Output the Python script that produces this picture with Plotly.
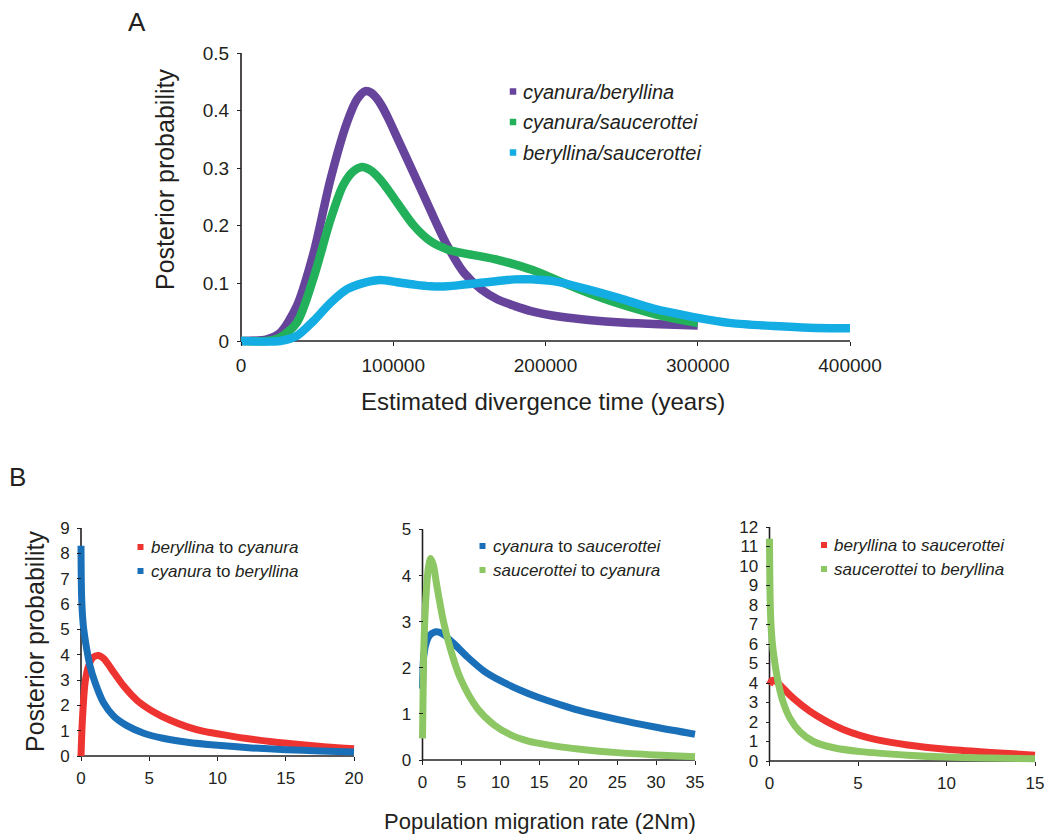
import plotly.graph_objects as go

# ---------------- Panel A data ----------------
div_time_cb = [0, 17000, 25700, 36700, 47700, 58700, 69700, 76300, 81800, 85500, 89000, 92500,
               97000, 102600, 113600, 124600, 135600, 146600, 157600, 168600, 179600, 190500,
               210000, 230000, 250000, 275000, 300000]
prob_cb = [0, 0.003, 0.014, 0.061, 0.153, 0.28, 0.38, 0.42, 0.434, 0.431, 0.422, 0.408,
           0.385, 0.353, 0.29, 0.226, 0.165, 0.118, 0.09, 0.072, 0.061, 0.052,
           0.042, 0.036, 0.032, 0.029, 0.027]

div_time_cs = [0, 17000, 25700, 36700, 47700, 58700, 67000, 74000, 79600, 84000, 88500, 94000,
               102600, 113600, 124600, 135600, 146600, 157600, 168600, 179600, 190500, 201000,
               220000, 239000, 258000, 277000, 300000]
prob_cs = [0, 0.0, 0.006, 0.032, 0.11, 0.21, 0.27, 0.295, 0.302, 0.298, 0.289, 0.272,
           0.24, 0.2, 0.173, 0.159, 0.152, 0.147, 0.141, 0.133, 0.124, 0.113,
           0.092, 0.073, 0.057, 0.043, 0.031]

div_time_bs = [0, 25700, 36700, 47700, 58700, 69700, 80700, 91600, 102600, 113600, 124600,
               135600, 146600, 157600, 168600, 179600, 190500, 207000, 226000, 249000, 271000,
               296500, 322000, 350000, 373000, 400000]
prob_bs = [0, 0.0, 0.009, 0.035, 0.066, 0.09, 0.101, 0.106, 0.102, 0.098, 0.095,
           0.095, 0.098, 0.101, 0.104, 0.107, 0.107, 0.103, 0.091, 0.074, 0.056,
           0.042, 0.031, 0.026, 0.023, 0.022]

names_a = ["<i>cyanura/beryllina</i>", "<i>cyanura/saucerottei</i>", "<i>beryllina/saucerottei</i>"]
ticks_a_x = [0, 100000, 200000, 300000, 400000]
ticklabels_a_x = ["0", "100000", "200000", "300000", "400000"]
ticks_a_y = [0, 0.1, 0.2, 0.3, 0.4, 0.5]
ticklabels_a_y = ["0", "0.1", "0.2", "0.3", "0.4", "0.5"]

# ---------------- Panel B data ----------------
# subplot 1: beryllina <-> cyanura
m_b2c = [0, 0.1, 0.3, 0.55, 0.9, 1.25, 1.65, 2.4, 3.1, 4.1, 5.3, 6.5, 7.8, 9, 10, 12, 14, 16, 18, 20]
p_b2c = [0, 1.4, 2.9, 3.55, 3.9, 3.97, 3.85, 3.3, 2.78, 2.2, 1.75, 1.42, 1.15, 0.97, 0.88, 0.7,
         0.56, 0.45, 0.36, 0.29]
m_c2b = [0, 0.05, 0.17, 0.42, 0.66, 1.03, 1.64, 2.38, 3.36, 4.6, 6, 7.8, 10, 12.5, 15, 17.5, 20]
p_c2b = [8.3, 6.2, 5.15, 4.22, 3.56, 2.9, 2.11, 1.58, 1.2, 0.9, 0.7, 0.54, 0.42, 0.32, 0.25,
         0.2, 0.16]

# subplot 2: cyanura <-> saucerottei
m_c2s = [0, 0.17, 0.52, 0.96, 1.83, 2.7, 4.0, 5.74, 7.9, 10, 12.5, 15, 17.5, 20, 25, 30, 35]
p_c2s = [1.55, 2.27, 2.56, 2.71, 2.78, 2.72, 2.53, 2.24, 1.93, 1.72, 1.52, 1.35, 1.21, 1.08,
         0.88, 0.71, 0.56]
m_s2c = [0, 0.08, 0.17, 0.43, 0.74, 1.04, 1.39, 1.83, 2.7, 3.57, 4.87, 7.04, 9.2, 11.4, 13.6,
         15, 17.5, 20, 25, 30, 35]
p_s2c = [0.47, 1.5, 2.42, 3.5, 4.15, 4.37, 4.23, 3.79, 3.0, 2.42, 1.77, 1.12, 0.76, 0.54, 0.41,
         0.36, 0.29, 0.24, 0.16, 0.11, 0.07]

# subplot 3: beryllina <-> saucerottei
m_b2s = [0, 0.15, 0.38, 0.76, 1.34, 2.29, 3.24, 4.2, 5.15, 6.1, 7.8, 10, 12.5, 15]
p_b2s = [3.9, 4.13, 4.08, 3.74, 3.22, 2.54, 2.02, 1.6, 1.3, 1.08, 0.82, 0.6, 0.44, 0.3]
m_s2b = [0, 0.02, 0.06, 0.15, 0.29, 0.48, 0.76, 1.15, 1.72, 2.48, 3.63, 5.15, 7.8, 10, 12.5, 15]
p_s2b = [11.4, 9.2, 7.5, 6.14, 5.1, 4.08, 3.05, 2.2, 1.5, 1.0, 0.68, 0.48, 0.3, 0.2, 0.15, 0.12]

legend_b1 = ["<i>beryllina</i> to <i>cyanura</i>", "<i>cyanura</i> to <i>beryllina</i>"]
legend_b2 = ["<i>cyanura</i> to <i>saucerottei</i>", "<i>saucerottei</i> to <i>cyanura</i>"]
legend_b3 = ["<i>beryllina</i> to <i>saucerottei</i>", "<i>saucerottei</i> to <i>beryllina</i>"]

ticks_b1_x = [0, 5, 10, 15, 20]
ticks_b1_y = list(range(0, 10))
ticks_b2_x = [0, 5, 10, 15, 20, 25, 30, 35]
ticks_b2_y = list(range(0, 6))
ticks_b3_x = [0, 5, 10, 15]
ticks_b3_y = list(range(0, 13))

# ---------------- styling ----------------
W, H = 1060, 840
FONT = "Liberation Sans, Arial, Helvetica, sans-serif"
INK = "#231f20"
PURPLE = "#66449b"
GREEN = "#23b05a"
CYAN = "#13ade3"
RED = "#ed3431"
BLUE = "#1a70b8"
LGREEN = "#8cc763"


def h_axis(p0, p1, v0, v1, pad_lo=5, pad_hi=5):
    s = (p1 - p0) / (v1 - v0)
    return [v0 - pad_lo / s, v1 + pad_hi / s], [(p0 - pad_lo) / W, (p1 + pad_hi) / W]


def v_axis(p0, p1, v0, v1, pad_lo=5, pad_hi=4):
    # p0: pixel (top-down) of v0, p1: pixel of v1 (p1 < p0)
    s = (p0 - p1) / (v1 - v0)
    return [v0 - pad_lo / s, v1 + pad_hi / s], [(H - (p0 + pad_lo)) / H, (H - (p1 - pad_hi)) / H]


# pixel geometry of each panel: (x0px, x1px, xmin, xmax), (y0px, y1px, ymin, ymax)
panels = [
    dict(x=(241, 850, 0, 400000), y=(341, 53, 0, 0.5)),
    dict(x=(81, 354, 0, 20), y=(756, 528, 0, 9)),
    dict(x=(422.5, 695, 0, 35), y=(760, 529.5, 0, 5)),
    dict(x=(769.5, 1035, 0, 15), y=(761, 527, 0, 12)),
]

fig = go.Figure()

series = [
    (1, div_time_cb, prob_cb, PURPLE, 8.5),
    (1, div_time_cs, prob_cs, GREEN, 8.5),
    (1, div_time_bs, prob_bs, CYAN, 8.5),
    (2, m_b2c, p_b2c, RED, 7),
    (2, m_c2b, p_c2b, BLUE, 7),
    (3, m_c2s, p_c2s, BLUE, 7),
    (3, m_s2c, p_s2c, LGREEN, 7),
    (4, m_b2s, p_b2s, RED, 7),
    (4, m_s2b, p_s2b, LGREEN, 7),
]
for k, xs, ys, col, w in series:
    sfx = "" if k == 1 else str(k)
    fig.add_trace(go.Scatter(x=xs, y=ys, mode="lines", xaxis="x" + sfx, yaxis="y" + sfx,
                             line=dict(color=col, width=w, shape="spline", smoothing=0.8),
                             showlegend=False, hoverinfo="skip"))

tick_sets = [
    (ticks_a_x, ticklabels_a_x, ticks_a_y, ticklabels_a_y, 19),
    (ticks_b1_x, [str(v) for v in ticks_b1_x], ticks_b1_y, [str(v) for v in ticks_b1_y], 17),
    (ticks_b2_x, [str(v) for v in ticks_b2_x], ticks_b2_y, [str(v) for v in ticks_b2_y], 17),
    (ticks_b3_x, [str(v) for v in ticks_b3_x], ticks_b3_y, [str(v) for v in ticks_b3_y], 17),
]

layout = dict(template="none", width=W, height=H, margin=dict(l=0, r=0, t=0, b=0, pad=0),
              autosize=False, paper_bgcolor="white", plot_bgcolor="rgba(0,0,0,0)",
              font=dict(family=FONT, color=INK), showlegend=False)
shapes = []
for i, (pan, ts) in enumerate(zip(panels, tick_sets)):
    sfx = "" if i == 0 else str(i + 1)
    x0p, x1p, xv0, xv1 = pan["x"]
    y0p, y1p, yv0, yv1 = pan["y"]
    xr, xd = h_axis(x0p, x1p, xv0, xv1)
    yr, yd = v_axis(y0p, y1p, yv0, yv1)
    tx, ttx, ty, tty, fs = ts
    common = dict(showgrid=False, zeroline=False, showline=False, ticks="outside", ticklen=4,
                  tickwidth=1.2, tickcolor=INK, tickfont=dict(size=fs, color=INK, family=FONT),
                  fixedrange=True, automargin=False)
    layout["xaxis" + sfx] = dict(range=xr, domain=xd, anchor="free", position=(H - y0p) / H,
                                 tickvals=tx, ticktext=ttx, ticklabelstandoff=3, **common)
    layout["yaxis" + sfx] = dict(range=yr, domain=yd, anchor="free", position=x0p / W,
                                 tickvals=ty, ticktext=tty, ticklabelstandoff=4, **common)
    # axis lines (from the axis minimum to maximum)
    shapes.append(dict(type="line", xref="x" + sfx, yref="y" + sfx, x0=xv0, x1=xv1, y0=yv0, y1=yv0,
                       line=dict(color=INK, width=1.6), layer="below"))
    shapes.append(dict(type="line", xref="x" + sfx, yref="y" + sfx, x0=xv0, x1=xv0, y0=yv0, y1=yv1,
                       line=dict(color=INK, width=1.6), layer="below"))

annotations = []


def txt(x, y, s, size, **kw):
    d = dict(x=x / W, y=1 - y / H, xref="paper", yref="paper", text=s, showarrow=False,
             font=dict(size=size, color=INK, family=FONT), xanchor="center", yanchor="middle")
    d.update(kw)
    annotations.append(d)


def legend(x_sq, ys, labels, colors, size, sq):
    for yy, lab, col in zip(ys, labels, colors):
        shapes.append(dict(type="rect", xref="paper", yref="paper",
                           x0=(x_sq - sq / 2) / W, x1=(x_sq + sq / 2) / W,
                           y0=1 - (yy + sq / 2) / H, y1=1 - (yy - sq / 2) / H,
                           fillcolor=col, line=dict(width=0)))
        txt(x_sq + 8, yy, lab, size, xanchor="left")


# panel labels and axis titles
txt(137, 22, "A", 26)
txt(17, 477, "B", 26)
txt(165, 180, "Posterior probability", 25, textangle=-90)
txt(543, 401, "Estimated divergence time (years)", 24)
txt(35, 642, "Posterior probability", 25, textangle=-90)
txt(540, 821, "Population migration rate (2Nm)", 22)

legend(513, [91.5, 122, 152.5], names_a, [PURPLE, GREEN, CYAN], 20, 6.5)
legend(140.5, [547, 571], legend_b1, [RED, BLUE], 17, 6)
legend(482.5, [546, 570], legend_b2, [BLUE, LGREEN], 17, 6)
legend(824, [545, 569], legend_b3, [RED, LGREEN], 17, 6)

layout["shapes"] = shapes
layout["annotations"] = annotations
fig.update_layout(**layout)
fig.write_html(
    "out.html",
    config={"responsive": False, "displayModeBar": False},
    post_script="document.body.style.margin='0';document.body.style.padding='0';"
                "document.documentElement.style.overflow='hidden';"
                "document.body.style.overflow='hidden';",
)
